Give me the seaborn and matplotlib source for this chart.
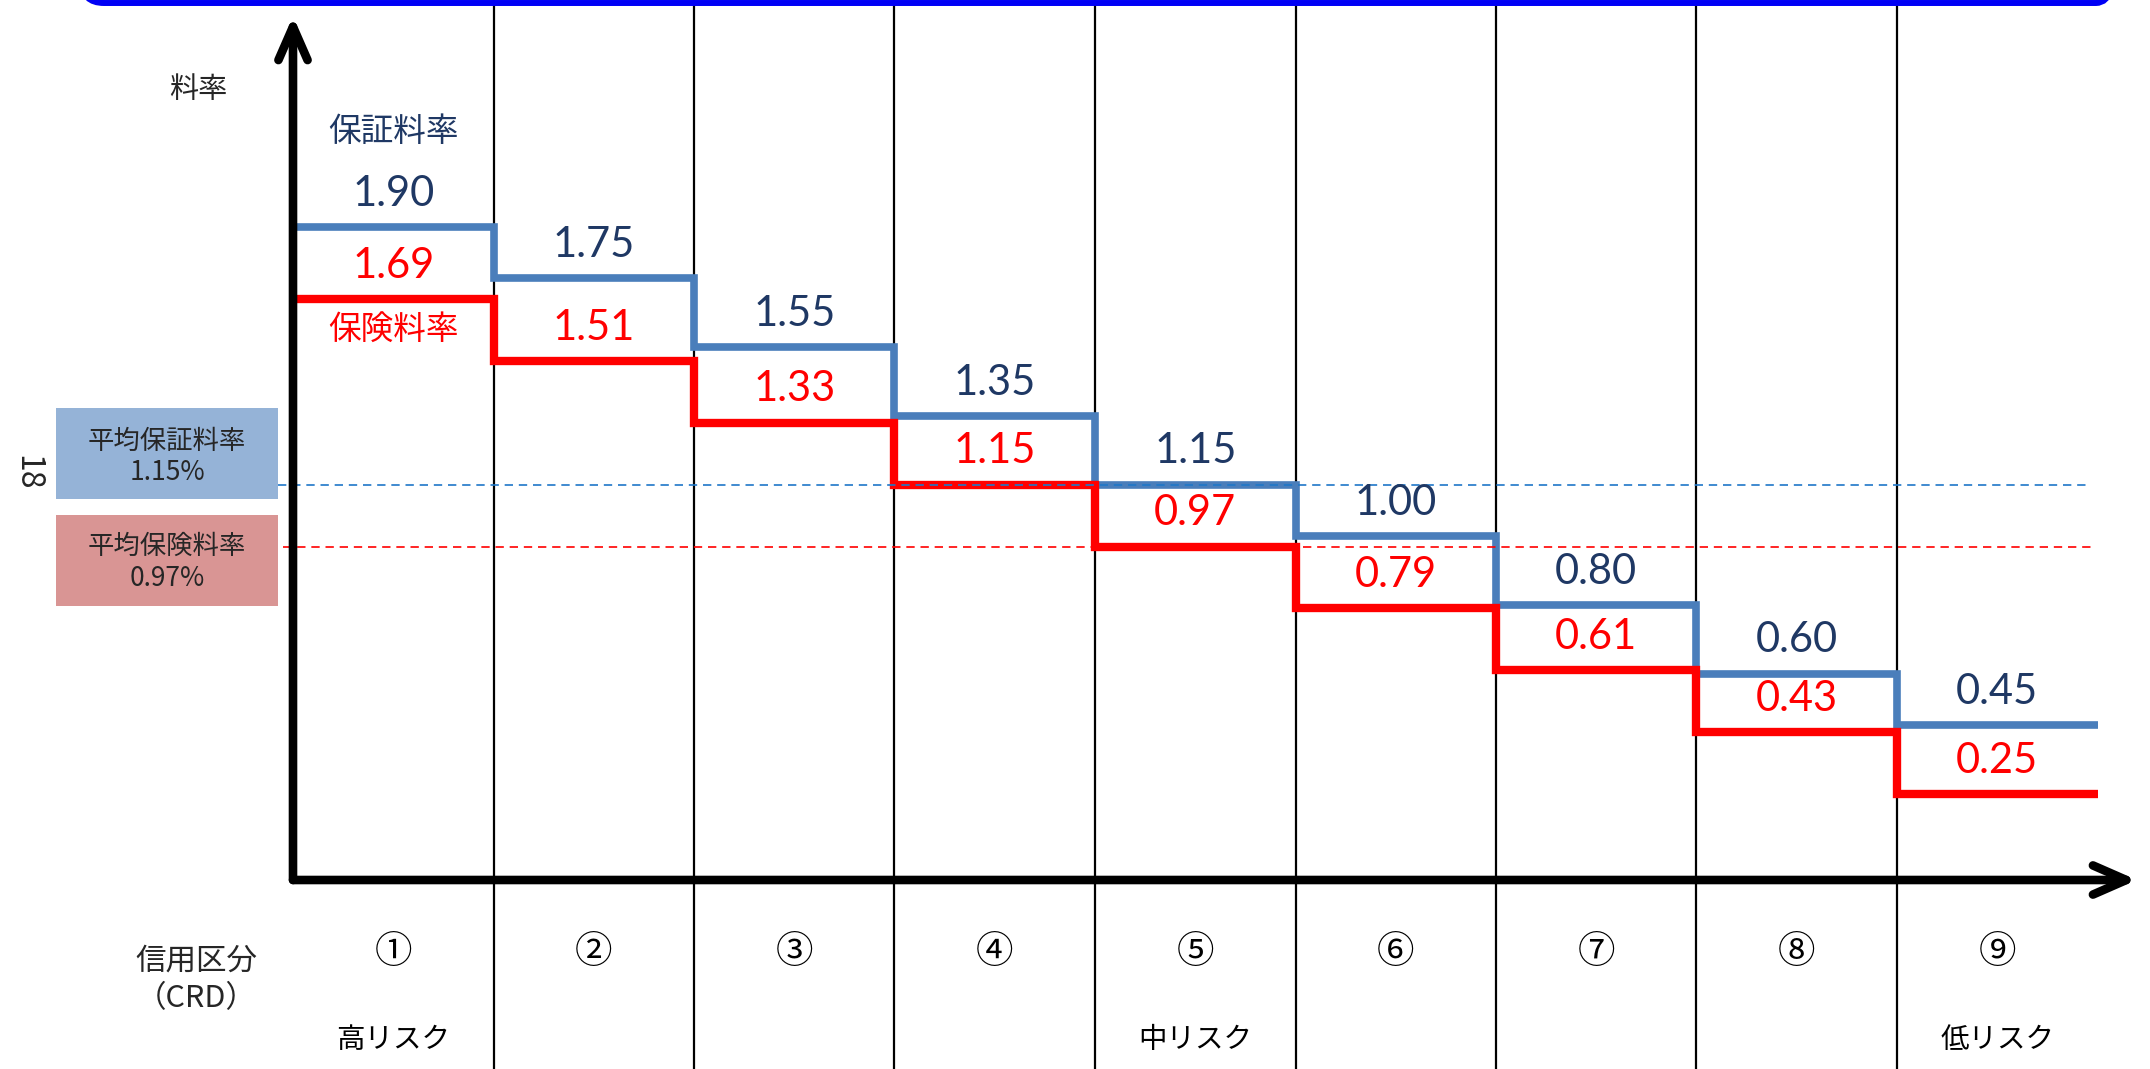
import numpy as np
import pandas as pd
import matplotlib.pyplot as plt
import seaborn as sns
from matplotlib.patches import FancyArrowPatch, FancyBboxPatch, Rectangle, ArrowStyle

# ---- data ----
grades = ["①", "②", "③", "④", "⑤", "⑥", "⑦", "⑧", "⑨"]
guarantee_rates = [1.90, 1.75, 1.55, 1.35, 1.15, 1.00, 0.80, 0.60, 0.45]
insurance_rates = [1.69, 1.51, 1.33, 1.15, 0.97, 0.79, 0.61, 0.43, 0.25]
avg_guarantee = 1.15
avg_insurance = 0.97
risk_labels = {0: "高リスク", 4: "中リスク", 8: "低リスク"}

# colours
NAVY = "#1F3864"
BLUE_LINE = "#4A7EBB"
BLUE_DASH = "#1F77C8"
RED = "#FF0000"

sns.set_theme(style="white")
plt.rcParams["font.family"] = ["Noto Sans CJK JP", "DejaVu Sans"]

W, H = 2150, 1069
fig = plt.figure(figsize=(W / 100, H / 100), dpi=100)

# data axes fill the whole figure; layout constants in pixels
X0, CW = 293, 200.5      # y-axis position and column width
Y0, YS = 880, 343.75     # rate 0 position and pixels per 1.00


def to_v(ypx):
    return (Y0 - ypx) / YS


ax = fig.add_axes([0, 0, 1, 1])

# 1. staircase lines (steps-post over column edges)
edges = np.arange(len(grades) + 1)
step_g = pd.DataFrame({"pos": edges, "rate": guarantee_rates + guarantee_rates[-1:]})
step_i = pd.DataFrame({"pos": edges, "rate": insurance_rates + insurance_rates[-1:]})
sns.lineplot(data=step_g, x="pos", y="rate", drawstyle="steps-post", color=BLUE_LINE,
             linewidth=5.5, solid_joinstyle="miter", solid_capstyle="butt", ax=ax, zorder=3)
sns.lineplot(data=step_i, x="pos", y="rate", drawstyle="steps-post", color=RED,
             linewidth=6, solid_joinstyle="miter", solid_capstyle="butt", ax=ax, zorder=3)

ax.set_xlim(-X0 / CW, (W - X0) / CW)
ax.set_ylim(to_v(H), to_v(0))
ax.axis("off")

# 2. column separators
ax.vlines(edges[1:-1], to_v(H), to_v(0), colors="black", linewidth=1.6, zorder=1)

# 3. average dashed lines
ax.hlines(avg_guarantee, -0.075, 8.97, colors=BLUE_DASH, linewidth=1.2,
          linestyles=(0, (5, 3.5)), zorder=4)
ax.hlines(avg_insurance, -0.05, 8.97, colors=RED, linewidth=1.2,
          linestyles=(0, (5, 3.5)), zorder=4)

# 4. value labels
for i, (g, r) in enumerate(zip(guarantee_rates, insurance_rates)):
    ax.annotate(f"{g:.2f}", (i + 0.5, g), xytext=(0, 24), textcoords="offset points",
                ha="center", va="center", fontsize=30, family="Lato", color=NAVY, zorder=5)
    ax.annotate(f"{r:.2f}", (i + 0.5, r), xytext=(0, 24), textcoords="offset points",
                ha="center", va="center", fontsize=30, family="Lato", color=RED, zorder=5)

ax.annotate("保証料率", (0.5, guarantee_rates[0]), xytext=(0, 68), textcoords="offset points",
            ha="center", va="center", fontsize=23.5, color=NAVY)
ax.annotate("保険料率", (0.5, insurance_rates[0]), xytext=(0, -22), textcoords="offset points",
            ha="center", va="center", fontsize=23.5, color=RED)

# 5. axes drawn as arrows
head = ArrowStyle("->", head_length=24, head_width=10.5)
for tip in [(0, to_v(16)), ((2137 - X0) / CW, 0)]:
    ax.add_patch(FancyArrowPatch((0, 0), tip, arrowstyle=head, mutation_scale=1,
                                 linewidth=6.2, color="black", capstyle="round",
                                 shrinkA=0, shrinkB=0, zorder=6))

# 6. category labels under the x axis
for i, g in enumerate(grades):
    ax.text(i + 0.5, to_v(953), g, ha="center", va="center", fontsize=27, color="black")
for i, lab in risk_labels.items():
    ax.text(i + 0.5, to_v(1040), lab, ha="center", va="center", fontsize=20.5, color="black")

# 7. layout overlay in pixel coordinates
lay = fig.add_axes([0, 0, 1, 1], zorder=3)
lay.set_xlim(0, W)
lay.set_ylim(H, 0)
lay.axis("off")

lay.add_patch(FancyBboxPatch((82, -80), 2036, 83, boxstyle="round,pad=0,rounding_size=22",
                             fill=False, ec="#0000F5", lw=4.3))

lay.add_patch(Rectangle((56, 408), 222, 91, fc="#95B3D7", ec="none"))
lay.add_patch(Rectangle((56, 515), 222, 91, fc="#D99594", ec="none"))
lay.text(167, 441, "平均保証料率", ha="center", va="center", fontsize=19)
lay.text(167, 473, f"{avg_guarantee:.2f}%", ha="center", va="center", fontsize=19)
lay.text(167, 546, "平均保険料率", ha="center", va="center", fontsize=19)
lay.text(167, 578, f"{avg_insurance:.2f}%", ha="center", va="center", fontsize=19)

lay.text(27, 473, "18", rotation=-90, ha="center", va="center", fontsize=23)
lay.text(198, 90, "料率", ha="center", va="center", fontsize=21)
lay.text(196, 961, "信用区分", ha="center", va="center", fontsize=22)
lay.text(196, 999, "（CRD）", ha="center", va="center", fontsize=22)

fig.savefig("out.png", dpi=100)
